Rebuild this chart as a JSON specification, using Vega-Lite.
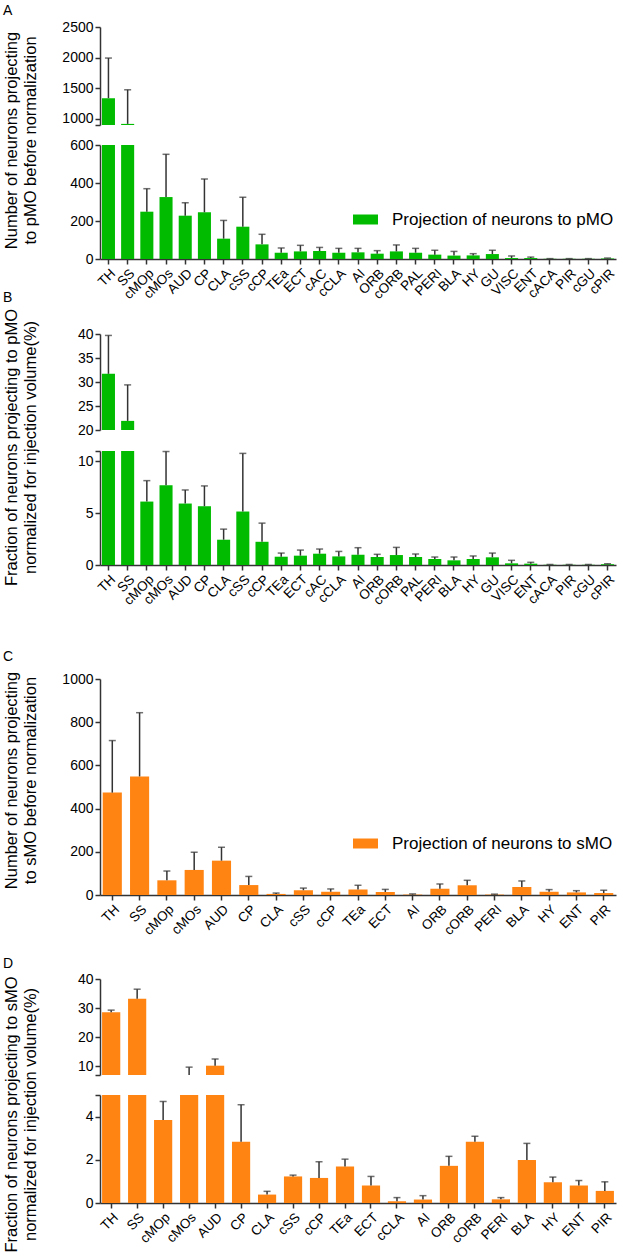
{
  "$schema": "https://vega.github.io/schema/vega-lite/v6.json",
  "padding": 2,
  "config": {
    "font": "Liberation Sans",
    "view": {"stroke": null},
    "axis": {
      "grid": false,
      "domainColor": "#333333",
      "domainWidth": 1.5,
      "tickColor": "#333333",
      "tickWidth": 1.5,
      "tickSize": 5,
      "labelColor": "#000000",
      "labelFontSize": 14,
      "labelPadding": 2,
      "titleColor": "#000000",
      "titleFontSize": 16.5,
      "titleFontWeight": "normal",
      "titleLineHeight": 19
    },
    "axisX": {"labelAngle": -45, "title": null, "labelFontSize": 13.5},
    "title": {"fontSize": 14, "fontWeight": "normal", "anchor": "start", "frame": "group", "baseline": "top", "offset": 0, "color": "#000000"},
    "legend": {
      "orient": "none",
      "title": null,
      "symbolType": "M-1,-0.4H1V0.4H-1Z",
      "symbolSize": 625,
      "symbolStrokeWidth": 0,
      "symbolOpacity": 1,
      "labelFontSize": 17,
      "labelOffset": 14,
      "labelLimit": 400,
      "labelColor": "#000000"
    },
    "rule": {"color": "#333333", "strokeWidth": 1.5},
    "tick": {"color": "#333333", "thickness": 1.5, "size": 7}
  },
  "datasets": {
    "pmoCount": [
      {"region": "TH", "value": 1338, "upper": 1993},
      {"region": "SS", "value": 918, "upper": 1475},
      {"region": "cMOp", "value": 249, "upper": 370},
      {"region": "cMOs", "value": 326, "upper": 551},
      {"region": "AUD", "value": 228, "upper": 296},
      {"region": "CP", "value": 246, "upper": 421},
      {"region": "CLA", "value": 107, "upper": 203},
      {"region": "cSS", "value": 170, "upper": 325},
      {"region": "cCP", "value": 77, "upper": 130},
      {"region": "TEa", "value": 33, "upper": 58},
      {"region": "ECT", "value": 40, "upper": 72},
      {"region": "cAC", "value": 42, "upper": 61},
      {"region": "cCLA", "value": 33, "upper": 56},
      {"region": "AI", "value": 35, "upper": 56},
      {"region": "ORB", "value": 28, "upper": 44},
      {"region": "cORB", "value": 40, "upper": 74},
      {"region": "PAL", "value": 33, "upper": 56},
      {"region": "PERI", "value": 23, "upper": 46},
      {"region": "BLA", "value": 18, "upper": 40},
      {"region": "HY", "value": 19, "upper": 28},
      {"region": "GU", "value": 26, "upper": 46},
      {"region": "VISC", "value": 5, "upper": 16},
      {"region": "ENT", "value": 5, "upper": 10},
      {"region": "cACA", "value": 1, "upper": 2},
      {"region": "PIR", "value": 1, "upper": 2},
      {"region": "cGU", "value": 1, "upper": 2},
      {"region": "cPIR", "value": 3, "upper": 5}
    ],
    "pmoFrac": [
      {"region": "TH", "value": 31.7, "upper": 39.7},
      {"region": "SS", "value": 21.9, "upper": 29.4},
      {"region": "cMOp", "value": 6.12, "upper": 8.14},
      {"region": "cMOs", "value": 7.69, "upper": 10.95},
      {"region": "AUD", "value": 5.93, "upper": 7.24},
      {"region": "CP", "value": 5.67, "upper": 7.63},
      {"region": "CLA", "value": 2.44, "upper": 3.46},
      {"region": "cSS", "value": 5.16, "upper": 10.77},
      {"region": "cCP", "value": 2.24, "upper": 4.04},
      {"region": "TEa", "value": 0.8, "upper": 1.15},
      {"region": "ECT", "value": 0.9, "upper": 1.44},
      {"region": "cAC", "value": 1.09, "upper": 1.54},
      {"region": "cCLA", "value": 0.83, "upper": 1.31},
      {"region": "AI", "value": 0.99, "upper": 1.67},
      {"region": "ORB", "value": 0.77, "upper": 1.03},
      {"region": "cORB", "value": 0.96, "upper": 1.7},
      {"region": "PAL", "value": 0.77, "upper": 1.06},
      {"region": "PERI", "value": 0.58, "upper": 0.77},
      {"region": "BLA", "value": 0.45, "upper": 0.77},
      {"region": "HY", "value": 0.58, "upper": 0.87},
      {"region": "GU", "value": 0.74, "upper": 1.15},
      {"region": "VISC", "value": 0.16, "upper": 0.45},
      {"region": "ENT", "value": 0.13, "upper": 0.26},
      {"region": "cACA", "value": 0.02, "upper": 0.05},
      {"region": "PIR", "value": 0.02, "upper": 0.05},
      {"region": "cGU", "value": 0.02, "upper": 0.05},
      {"region": "cPIR", "value": 0.08, "upper": 0.12}
    ],
    "smoCount": [
      {"region": "TH", "value": 474, "upper": 715},
      {"region": "SS", "value": 549, "upper": 844},
      {"region": "cMOp", "value": 68, "upper": 111},
      {"region": "cMOs", "value": 116, "upper": 198},
      {"region": "AUD", "value": 159, "upper": 221},
      {"region": "CP", "value": 46, "upper": 86},
      {"region": "CLA", "value": 5, "upper": 9},
      {"region": "cSS", "value": 22, "upper": 32},
      {"region": "cCP", "value": 15, "upper": 28},
      {"region": "TEa", "value": 26, "upper": 45},
      {"region": "ECT", "value": 14, "upper": 26},
      {"region": "AI", "value": 2, "upper": 5},
      {"region": "ORB", "value": 29, "upper": 51},
      {"region": "cORB", "value": 45, "upper": 68},
      {"region": "PERI", "value": 2, "upper": 4},
      {"region": "BLA", "value": 37, "upper": 65},
      {"region": "HY", "value": 15, "upper": 25},
      {"region": "ENT", "value": 12, "upper": 20},
      {"region": "PIR", "value": 9, "upper": 22}
    ],
    "smoFrac": [
      {"region": "TH", "value": 28.6, "upper": 29.3},
      {"region": "SS", "value": 33.2, "upper": 36.5},
      {"region": "cMOp", "value": 3.84, "upper": 4.7},
      {"region": "cMOs", "value": 6.5, "upper": 9.7},
      {"region": "AUD", "value": 10.2, "upper": 12.5},
      {"region": "CP", "value": 2.83, "upper": 4.55},
      {"region": "CLA", "value": 0.39, "upper": 0.54},
      {"region": "cSS", "value": 1.23, "upper": 1.29},
      {"region": "cCP", "value": 1.16, "upper": 1.91},
      {"region": "TEa", "value": 1.69, "upper": 2.03},
      {"region": "ECT", "value": 0.81, "upper": 1.23},
      {"region": "cCLA", "value": 0.08, "upper": 0.25},
      {"region": "AI", "value": 0.16, "upper": 0.34},
      {"region": "ORB", "value": 1.72, "upper": 2.16},
      {"region": "cORB", "value": 2.84, "upper": 3.09},
      {"region": "PERI", "value": 0.17, "upper": 0.25},
      {"region": "BLA", "value": 1.99, "upper": 2.76},
      {"region": "HY", "value": 0.96, "upper": 1.2},
      {"region": "ENT", "value": 0.81, "upper": 1.04},
      {"region": "PIR", "value": 0.56, "upper": 0.98}
    ]
  },
  "resolve": {"scale": {"color": "independent"}, "legend": {"color": "independent"}},
  "bounds": "flush",
  "spacing": 0,
  "vconcat": [
    {
      "width": 516,
      "height": 257,
      "title": {"text": "A", "dx": -97, "dy": 20},
      "data": {"name": "pmoCount"},
      "encoding": {
        "x": {"field": "region", "type": "nominal", "sort": null, "scale": {"paddingInner": 0.32, "paddingOuter": 0.1}}
      },
      "resolve": {"scale": {"y": "independent"}, "axis": {"y": "independent"}},
      "layer": [
        {
          "encoding": {
            "y": {"field": "value", "type": "quantitative",
              "scale": {"domain": [900, 2500], "range": [123, 25], "zero": false, "clamp": true},
              "axis": {"orient": "left", "values": [900, 1000, 1500, 2000, 2500], "format": "d", "labelExpr": "datum.value == 900 ? '' : datum.label", "title": null}}
          },
          "layer": [
            {"mark": {"type": "bar", "color": "#00bb00"}, "encoding": {"y2": {"datum": 900}}},
            {"mark": "rule", "encoding": {"y2": {"field": "upper"}}},
            {"transform": [{"filter": "datum.upper >= 900"}], "mark": "tick", "encoding": {"y": {"field": "upper", "type": "quantitative"}}}
          ]
        },
        {
          "encoding": {
            "y": {"field": "value", "type": "quantitative",
              "scale": {"domain": [0, 600], "range": [257, 143], "clamp": true},
              "axis": {"orient": "left", "values": [0, 200, 400, 600], "format": "d", "title": ["Number of neurons projecting", "to pMO before normalization"], "titleX": -81, "titleY": 138}}
          },
          "layer": [
            {"mark": "bar", "encoding": {"color": {"datum": "Projection of neurons to pMO", "scale": {"range": ["#00bb00"]}, "legend": {"legendX": 253, "legendY": 205}}}},
            {"mark": "rule", "encoding": {"y2": {"field": "upper"}}},
            {"transform": [{"filter": "datum.upper <= 600"}], "mark": "tick", "encoding": {"y": {"field": "upper", "type": "quantitative"}}}
          ]
        }
      ]
    },
    {
      "width": 516,
      "height": 306,
      "title": {"text": "B", "dx": -97, "dy": 50},
      "data": {"name": "pmoFrac"},
      "encoding": {
        "x": {"field": "region", "type": "nominal", "sort": null, "scale": {"paddingInner": 0.32, "paddingOuter": 0.1}}
      },
      "resolve": {"scale": {"y": "independent"}, "axis": {"y": "independent"}},
      "layer": [
        {
          "encoding": {
            "y": {"field": "value", "type": "quantitative",
              "scale": {"domain": [20, 40], "range": [171, 75], "zero": false, "clamp": true},
              "axis": {"orient": "left", "values": [20, 25, 30, 35, 40], "title": null}}
          },
          "layer": [
            {"mark": {"type": "bar", "color": "#00bb00"}, "encoding": {"y2": {"datum": 20}}},
            {"mark": "rule", "encoding": {"y2": {"field": "upper"}}},
            {"transform": [{"filter": "datum.upper >= 20"}], "mark": "tick", "encoding": {"y": {"field": "upper", "type": "quantitative"}}}
          ]
        },
        {
          "encoding": {
            "y": {"field": "value", "type": "quantitative",
              "scale": {"domain": [0, 11], "range": [306, 192], "clamp": true},
              "axis": {"orient": "left", "values": [0, 5, 10, 11], "labelExpr": "datum.value == 11 ? '' : datum.label", "title": ["Fraction of neurons projecting to pMO", "normalized for injection volume(%)"], "titleX": -81, "titleY": 188}}
          },
          "layer": [
            {"mark": {"type": "bar", "color": "#00bb00"}},
            {"mark": "rule", "encoding": {"y2": {"field": "upper"}}},
            {"transform": [{"filter": "datum.upper <= 11"}], "mark": "tick", "encoding": {"y": {"field": "upper", "type": "quantitative"}}}
          ]
        }
      ]
    },
    {
      "width": 516,
      "height": 330,
      "title": {"text": "C", "dx": -97, "dy": 103},
      "data": {"name": "smoCount"},
      "encoding": {
        "x": {"field": "region", "type": "nominal", "sort": null, "scale": {"paddingInner": 0.3, "paddingOuter": 0.1}},
        "y": {"field": "value", "type": "quantitative",
          "scale": {"domain": [0, 1000], "range": [330, 114], "clamp": true},
          "axis": {"values": [0, 200, 400, 600, 800, 1000], "format": "d", "title": ["Number of neurons projecting", "to sMO before normalization"], "titleX": -81, "titleY": 215}}
      },
      "layer": [
        {"mark": "bar", "encoding": {"color": {"datum": "Projection of neurons to sMO", "scale": {"range": ["#ff8412"]}, "legend": {"legendX": 253, "legendY": 266}}}},
        {"mark": "rule", "encoding": {"y2": {"field": "upper"}}},
        {"mark": "tick", "encoding": {"y": {"field": "upper", "type": "quantitative"}}}
      ]
    },
    {
      "width": 516,
      "height": 308,
      "title": {"text": "D", "dx": -97, "dy": 80},
      "data": {"name": "smoFrac"},
      "encoding": {
        "x": {"field": "region", "type": "nominal", "sort": null, "scale": {"paddingInner": 0.3, "paddingOuter": 0.08}}
      },
      "resolve": {"scale": {"y": "independent"}, "axis": {"y": "independent"}},
      "layer": [
        {
          "encoding": {
            "y": {"field": "value", "type": "quantitative",
              "scale": {"domain": [7, 40], "range": [180, 84], "zero": false, "clamp": true},
              "axis": {"orient": "left", "values": [7, 10, 20, 30, 40], "labelExpr": "datum.value == 7 ? '' : datum.label", "title": null}}
          },
          "layer": [
            {"mark": {"type": "bar", "color": "#ff8412"}, "encoding": {"y2": {"datum": 7}}},
            {"mark": "rule", "encoding": {"y2": {"field": "upper"}}},
            {"transform": [{"filter": "datum.upper >= 7"}], "mark": "tick", "encoding": {"y": {"field": "upper", "type": "quantitative"}}}
          ]
        },
        {
          "encoding": {
            "y": {"field": "value", "type": "quantitative",
              "scale": {"domain": [0, 5], "range": [308, 200], "clamp": true},
              "axis": {"orient": "left", "values": [0, 2, 4, 5], "labelExpr": "datum.value == 5 ? '' : datum.label", "title": ["Fraction of neurons projecting to sMO", "normalized for injection volume(%)"], "titleX": -81, "titleY": 219}}
          },
          "layer": [
            {"mark": {"type": "bar", "color": "#ff8412"}},
            {"mark": "rule", "encoding": {"y2": {"field": "upper"}}},
            {"transform": [{"filter": "datum.upper <= 5"}], "mark": "tick", "encoding": {"y": {"field": "upper", "type": "quantitative"}}}
          ]
        }
      ]
    }
  ]
}
